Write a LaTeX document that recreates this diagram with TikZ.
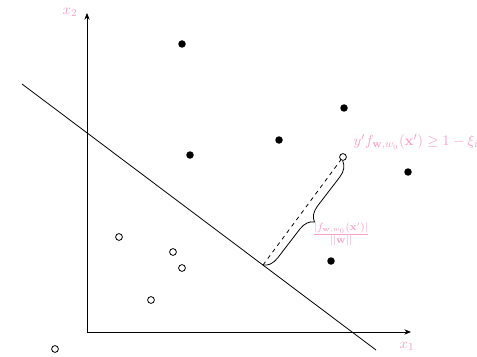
\documentclass[tikz,border=0pt]{standalone}
\usetikzlibrary{arrows.meta,decorations.pathreplacing}
\definecolor{lbl}{RGB}{248,160,200}
\begin{document}
\begin{tikzpicture}[x=0.75pt,y=-0.75pt,
  posdot/.style={circle,fill=black,inner sep=0pt,minimum size=7.5pt*0.75},
  negdot/.style={circle,draw=black,fill=white,line width=0.6pt,inner sep=0pt,minimum size=6.8pt*0.75},
  axisline/.style={-{Stealth[length=5pt,width=4pt]},line width=0.6pt},
  lab/.style={text=lbl,font=\fontsize{11}{13}\selectfont}]
\useasboundingbox (0,0) rectangle (477,356);
\coordinate (O) at (87,332);
\coordinate (X) at (411,332);
\coordinate (Y) at (87,13);
\draw[axisline] (O) -- (X);
\draw[axisline] (O) -- (Y);
\node[lab] (x1) at (407,346) {$x_1$};
\node[lab] (x2) at (70,12) {$x_2$};
\coordinate (L1) at (22,84);
\coordinate (L2) at (376,350);
\draw[line width=0.6pt] (L1) -- (L2);
\node[posdot] (p1) at (182,44) {};
\node[posdot] (p2) at (344,108) {};
\node[posdot] (p3) at (190,155) {};
\node[posdot] (p4) at (279,140) {};
\node[posdot] (p5) at (408,172) {};
\node[posdot] (p6) at (331,261) {};
\node[negdot] (n1) at (119,237) {};
\node[negdot] (n2) at (173,252) {};
\node[negdot] (n3) at (182,268) {};
\node[negdot] (n4) at (151,300) {};
\node[negdot] (n5) at (55,349) {};
\node[negdot] (q) at (343,157) {};
\coordinate (F) at (263,265);
\draw[dashed,line width=0.6pt] (F) -- (q);
\draw[line width=0.6pt,decorate,decoration={brace,mirror,amplitude=11pt}] (F) -- (q.south);
\node[lab] (dist) at (341,234) {$\frac{|f_{\mathbf{w},w_0}(\mathbf{x}')|}{||\mathbf{w}||}$};
\node[lab,anchor=west] (cond) at (349,142) {$y' f_{\mathbf{w},w_0}(\mathbf{x}') \geq 1-\xi_i$};
\end{tikzpicture}
\end{document}
